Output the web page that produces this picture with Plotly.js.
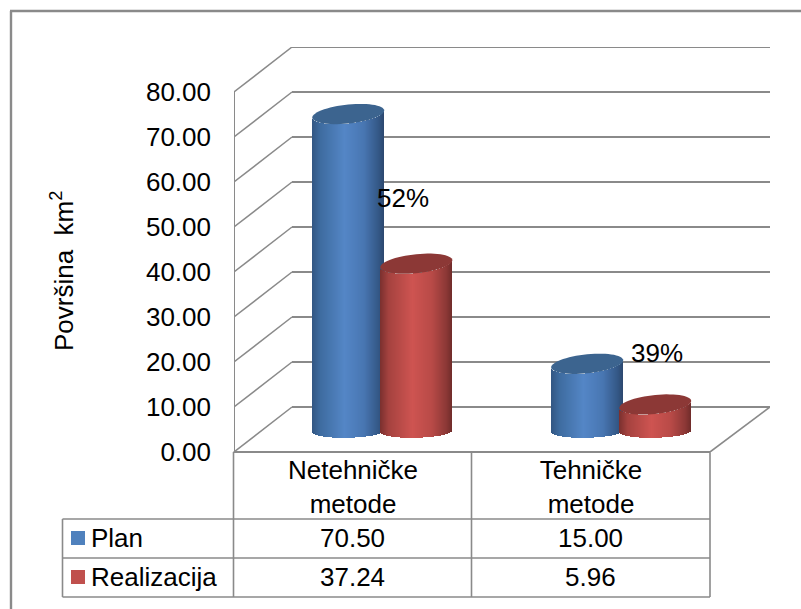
<!DOCTYPE html>
<html><head><meta charset="utf-8">
<script src="https://cdn.plot.ly/plotly-3.0.1.min.js"></script>
<style>html,body{margin:0;padding:0;background:#fff;overflow:hidden}</style>
</head><body><div id="chart" style="width:801px;height:609px"></div>
<script>
const categories = ["Netehničke<br>metode", "Tehničke<br>metode"];
const plan = [70.50, 15.00];
const realizacija = [37.24, 5.96];
const seriesNames = ["Plan", "Realizacija"];
const yTicks = [0, 10, 20, 30, 40, 50, 60, 70, 80];
const percentLabels = ["52%", "39%"];
const yTitle = "Površina\u00a0 km<sup>2</sup>";

const W = 801, H = 609;
const M = {l: 234, r: 31, t: 47, b: 157};
const PW = W - M.l - M.r, PH = H - M.t - M.b;
const catPx = 238, unitPx = 4.5;
const xMax = PW / catPx, yMax = PH / unitPx;
const depthX = 58 / catPx, depthY = 10;          // wall offset in axis units
const midDepth = 0.122, midY = 4.6;              // cylinders stand mid-floor
const offs = [-0.142, 0.144], halfW = 0.151, catStep = 1.004;

// paper coordinates are relative to the plot area
const px = x => (x - M.l) / PW, py = y => 1 - (y - M.t) / PH;
const GRID = "#8a8a8a", TXT = "#000", FONT = "Liberation Sans, Arial, sans-serif", FS = 26;

function lerp(a, b, t) { return a.map((v, i) => Math.round(v + (b[i] - v) * t)); }
function shade(stops, t) {
  for (let i = 1; i < stops.length; i++) if (t <= stops[i][0]) {
    const f = (t - stops[i-1][0]) / (stops[i][0] - stops[i-1][0]);
    const c = lerp(stops[i-1][1], stops[i][1], f);
    return `rgb(${c[0]},${c[1]},${c[2]})`;
  }
  return "#000";
}
const blueStops = [[0,[50,86,130]],[0.12,[62,108,160]],[0.45,[84,134,198]],[0.72,[72,118,178]],[0.92,[52,88,135]],[1,[44,72,110]]];
const redStops  = [[0,[122,48,46]],[0.12,[165,66,63]],[0.45,[206,84,81]],[0.72,[184,74,71]],[0.92,[140,56,54]],[1,[112,44,42]]];
const capColors = ["#3c648f", "#8c3836"];

function ellipseOffset(t, hh, sh) { // t in [-1,1]; offset in axis units of the front edge
  return (sh * t - hh * Math.sqrt(Math.max(0, 1 - t * t))) / unitPx;
}
function cylinderTrace(vals, sIdx, stops, name) {
  const xs = [], bases = [], ys = [], cols = [], ws = [];
  const n = 72, step = 2 * halfW / n;
  vals.forEach((v, c) => {
    const cx = c * catStep + 0.5 + midDepth + offs[sIdx];
    for (let i = 0; i < n; i++) {
      const t = (i + 0.5) / n * 2 - 1;
      const b = midY + ellipseOffset(t, 6.5, 0.8);
      const top = midY + v + ellipseOffset(t, 9.5, 3.5);
      xs.push(cx + t * halfW); bases.push(b); ys.push(top - b);
      cols.push(shade(stops, (t + 1) / 2)); ws.push(step * 1.25);
    }
  });
  return {type: "bar", name, x: xs, y: ys, base: bases, width: ws, showlegend: false, hoverinfo: "skip",
          marker: {color: cols, line: {width: 0}}};
}
function capPath(v, sIdx, c) {
  const cx = c * catStep + 0.5 + midDepth + offs[sIdx], pts = [];
  for (let i = 0; i <= 60; i++) {
    const a = i / 60 * 2 * Math.PI, t = Math.cos(a);
    const yy = midY + v + (3.5 * t + 9.5 * Math.sin(a)) / unitPx;
    pts.push((i ? "L" : "M") + (cx + t * halfW) + "," + yy);
  }
  return pts.join(" ") + " Z";
}

const shapes = [];
const ln = (x0, y0, x1, y1, w, col) => shapes.push({type: "line", xref: "paper", yref: "paper",
  x0: px(x0), y0: py(y0), x1: px(x1), y1: py(y1), line: {color: col || GRID, width: w || 1.6}, layer: "below"});

// walls: gridlines come from the tick values
yTicks.forEach(v => {
  shapes.push({type: "line", xref: "x", yref: "y", x0: 0, y0: v, x1: depthX, y1: v + depthY, line: {color: GRID, width: 1.5}, layer: "below"});
  shapes.push({type: "line", xref: "x", yref: "y", x0: depthX, y0: v + depthY, x1: xMax, y1: v + depthY, line: {color: GRID, width: 1.8}, layer: "below"});
});
shapes.push({type: "line", xref: "x", yref: "y", x0: 0, y0: 0, x1: 0, y1: 80, line: {color: GRID, width: 2}, layer: "below"});
shapes.push({type: "line", xref: "x", yref: "y", x0: 2, y0: 0, x1: xMax, y1: depthY, line: {color: GRID, width: 1.6}, layer: "below"});

// page border: left and top only reach the picture edges
ln(11, 609, 11, 11, 2.4); ln(10, 11, 801, 11, 2.4);

// data table
ln(233.5, 452, 233.5, 597); ln(471.5, 452, 471.5, 597); ln(710, 452, 710, 597);
ln(233.5, 452, 710, 452, 2.2);
ln(62.5, 519, 710, 519); ln(62.5, 558, 710, 558); ln(62.5, 597, 710, 597); ln(62.5, 519, 62.5, 597);

// legend keys
const keyColors = ["#4f81bd", "#c0504d"];
const rowY = [538, 577];
keyColors.forEach((c, i) => shapes.push({type: "rect", xref: "paper", yref: "paper", x0: px(71), x1: px(85),
  y0: py(rowY[i] + 7), y1: py(rowY[i] - 7), fillcolor: c, line: {width: 0}, layer: "above"}));

// cylinder caps
[plan, realizacija].forEach((vals, s) => vals.forEach((v, c) => shapes.push({type: "path", xref: "x", yref: "y",
  path: capPath(v, s, c), fillcolor: capColors[s], line: {width: 0}, layer: "above"})));

const ann = (text, x, y, anchor, extra) => Object.assign({text, xref: "paper", yref: "paper", x: px(x), y: py(y), xanchor: anchor || "center",
  yanchor: "middle", showarrow: false, font: {family: FONT, size: FS, color: TXT}}, extra || {});
const annotations = [
  ann(percentLabels[0], 403, 198), ann(percentLabels[1], 657, 353),
  ann(seriesNames[0], 89, rowY[0], "left"), ann(seriesNames[1], 89, rowY[1], "left"),
  ann(yTitle, 62, 271, "center", {textangle: -90})
];
[plan, realizacija].forEach((vals, s) => vals.forEach((v, c) =>
  annotations.push(ann(v.toFixed(2), c ? 590 : 352, rowY[s]))));

Plotly.newPlot("chart",
  [cylinderTrace(plan, 0, blueStops, seriesNames[0]), cylinderTrace(realizacija, 1, redStops, seriesNames[1])],
  {
    width: W, height: H, margin: M, paper_bgcolor: "#fff", plot_bgcolor: "#fff",
    barmode: "overlay", bargap: 0, showlegend: false, shapes, annotations,
    font: {family: FONT, size: FS, color: TXT},
    xaxis: {type: "linear", range: [0, xMax], tickmode: "array", tickvals: [0.5, 1.5], ticktext: categories,
            showgrid: false, zeroline: false, showline: false, ticks: "", tickangle: 0, fixedrange: true,
            tickfont: {family: FONT, size: FS, color: TXT}},
    yaxis: {range: [0, yMax], tickmode: "array", tickvals: yTicks, ticktext: yTicks.map(v => v.toFixed(2)),
            showgrid: false, zeroline: false, showline: false, ticks: "", ticklabelstandoff: 22, fixedrange: true,
            tickfont: {family: FONT, size: FS, color: TXT}}
  },
  {displayModeBar: false, staticPlot: true});
</script></body></html>
